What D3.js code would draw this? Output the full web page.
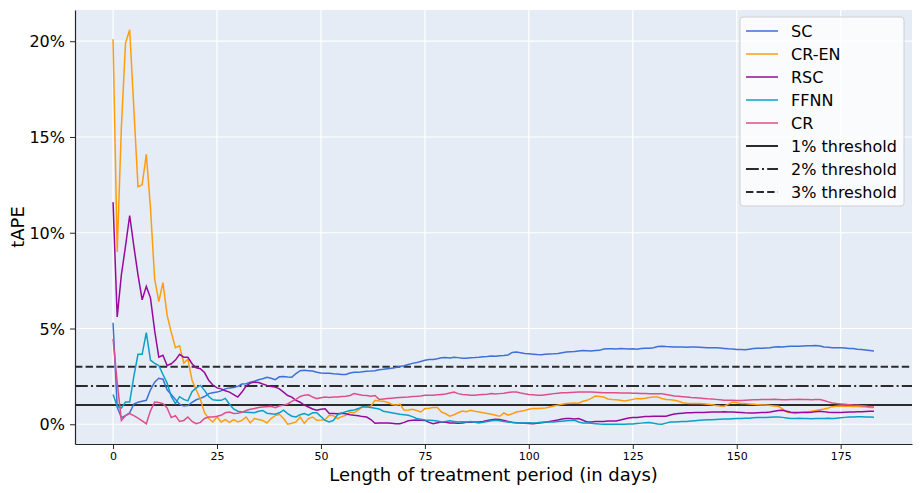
<!DOCTYPE html>
<html>
<head>
<meta charset="utf-8">
<script src="https://cdn.jsdelivr.net/npm/d3@7"></script>
<style>
  body { margin: 0; background: #fff; }
  svg { font-family: "DejaVu Sans", sans-serif; }
</style>
</head>
<body>
<svg id="chart" width="923" height="493"></svg>
<script>
// tAPE (%) per day of treatment period, days 0..183
var sc = [
  5.3, 0.9, 0.35, 0.45, 0.6, 1.05, 1.15, 1.2, 1.25, 1.8,
  2.2, 2.4, 2.35, 1.8, 1.55, 1.3, 1.05, 0.95, 0.98, 1.15,
  1.28, 1.35, 1.45, 1.6, 1.65, 1.68, 1.75, 1.85, 1.9, 1.92,
  1.98, 2.1, 2.12, 2.2, 2.25, 2.32, 2.38, 2.45, 2.4, 2.33,
  2.48, 2.5, 2.47, 2.46, 2.65, 2.8, 2.82, 2.8, 2.78, 2.72,
  2.68, 2.66, 2.67, 2.64, 2.62, 2.6, 2.6, 2.68, 2.72, 2.71,
  2.74, 2.77, 2.78, 2.8, 2.85, 2.87, 2.9, 2.93, 2.96, 3.02,
  3.06, 3.12, 3.18, 3.22, 3.28, 3.34, 3.38, 3.38, 3.42, 3.47,
  3.48, 3.46, 3.5, 3.48, 3.45, 3.45, 3.47, 3.48, 3.5, 3.53,
  3.54, 3.56, 3.55, 3.58, 3.59, 3.62, 3.75, 3.77, 3.74, 3.7,
  3.68, 3.66, 3.64, 3.63, 3.65, 3.67, 3.68, 3.7, 3.74, 3.77,
  3.79, 3.8, 3.83, 3.85, 3.84, 3.83, 3.85, 3.86, 3.93, 3.94,
  3.94, 3.93, 3.95, 3.94, 3.93, 3.94, 3.92, 3.95, 3.97, 3.97,
  4.0, 4.06, 4.08, 4.06, 4.05, 4.03, 4.03, 4.04, 4.02, 4.03,
  4.03, 4.02, 4.01, 4.0, 3.99, 3.99, 3.98, 3.96, 3.94, 3.93,
  3.91, 3.9, 3.89, 3.92, 3.95, 3.97, 3.97, 3.98, 3.99, 4.03,
  4.05, 4.04, 4.06, 4.07, 4.08, 4.08, 4.09, 4.1, 4.1, 4.11,
  4.09, 4.04, 4.02, 4.0, 4.0, 3.99, 3.98, 3.96, 3.95, 3.92,
  3.9, 3.88, 3.85, 3.82
];
var crEn = [
  20.1, 9.0, 15.5, 19.9, 20.6, 16.5, 12.4, 12.5, 14.1, 11.3,
  7.6, 6.4, 7.4, 5.7, 4.8, 4.0, 4.1, 3.2, 3.4, 2.3,
  1.8, 1.3, 0.6, 0.3, 0.12, 0.38, 0.12, 0.24, 0.1, 0.24,
  0.12, 0.2, 0.38, 0.07, 0.3, 0.25, 0.2, 0.07, 0.3, 0.45,
  0.52, 0.3, 0.0, 0.05, 0.12, 0.38, 0.05, 0.3, 0.38, 0.21,
  0.22, 0.24, 0.47, 0.45, 0.3, 0.4, 0.47, 0.64, 0.6, 0.75,
  0.9, 0.92, 0.94, 1.25, 1.22, 1.2, 1.15, 1.05, 1.0, 1.05,
  0.73, 0.75, 0.78, 0.72, 0.64, 0.82, 0.84, 0.87, 0.87, 0.64,
  0.55, 0.42, 0.5, 0.6, 0.69, 0.66, 0.73, 0.68, 0.64, 0.6,
  0.56, 0.52, 0.47, 0.42, 0.59, 0.47, 0.55, 0.64, 0.68, 0.72,
  0.78, 0.82, 0.83, 0.84, 0.85, 0.9, 0.95, 1.0, 1.05, 1.08,
  1.1, 1.11, 1.1, 1.2, 1.25, 1.35, 1.47, 1.45, 1.42, 1.32,
  1.29, 1.28, 1.25, 1.21, 1.25, 1.3, 1.34, 1.33, 1.36, 1.4,
  1.42, 1.42, 1.35, 1.29, 1.28, 1.25, 1.2, 1.12, 1.1, 1.09,
  1.08, 1.08, 1.07, 1.05, 1.02, 0.98, 0.95, 0.94, 1.05, 1.16,
  1.12, 1.08, 1.08, 1.06, 1.04, 1.02, 1.0, 1.0, 0.98, 0.96,
  0.94, 0.8, 0.64, 0.6, 0.56, 0.6, 0.64, 0.66, 0.68, 0.72,
  0.76, 0.8, 0.85, 0.92, 0.94, 0.95, 0.94, 0.94, 0.93, 0.94,
  0.92, 0.9, 0.88, 0.87
];
var rsc = [
  11.6, 5.6, 7.8, 9.3, 10.9, 9.3, 7.8, 6.5, 7.2, 6.6,
  4.9, 3.5, 3.6, 3.07, 3.16, 3.35, 3.65, 3.5, 3.5, 3.16,
  2.95, 2.9, 2.7, 2.3, 2.05, 1.9, 1.85, 1.75, 1.68, 1.55,
  1.42, 1.68, 2.0, 2.15, 2.2, 2.18, 2.1, 2.03, 1.97, 1.94,
  1.85, 1.68, 1.5, 1.42, 1.25, 1.15, 1.0, 0.9, 0.8, 0.73,
  0.78, 0.81, 0.56, 0.56, 0.55, 0.57, 0.55, 0.5, 0.47, 0.45,
  0.4, 0.38, 0.25, 0.05, 0.07, 0.07, 0.06, 0.05, 0.03, 0.03,
  0.1, 0.18, 0.21, 0.22, 0.21, 0.2, 0.1, 0.03, 0.08, 0.12,
  0.1, 0.07, 0.07, 0.05, 0.07, 0.1, 0.1, 0.12, 0.12, 0.15,
  0.2, 0.24, 0.26, 0.25, 0.2, 0.15, 0.09, 0.08, 0.06, 0.05,
  0.04, 0.03, 0.05, 0.08, 0.1, 0.14, 0.18, 0.22, 0.28, 0.3,
  0.3, 0.28, 0.3, 0.21, 0.12, 0.12, 0.14, 0.15, 0.15, 0.17,
  0.17, 0.17, 0.22, 0.28, 0.33, 0.35, 0.36, 0.38, 0.4, 0.41,
  0.42, 0.42, 0.42, 0.42, 0.48, 0.54, 0.56, 0.58, 0.6, 0.6,
  0.61, 0.62, 0.62, 0.63, 0.64, 0.64, 0.64, 0.65, 0.64, 0.64,
  0.63, 0.62, 0.6, 0.59, 0.59, 0.6, 0.61, 0.61, 0.64, 0.68,
  0.72, 0.73, 0.68, 0.63, 0.61, 0.61, 0.62, 0.62, 0.63, 0.66,
  0.68, 0.66, 0.63, 0.61, 0.61, 0.62, 0.63, 0.64, 0.64, 0.65,
  0.66, 0.67, 0.68, 0.68
];
var ffnn = [
  1.55, 0.95, 0.85, 1.16, 1.16, 2.5, 3.65, 3.65, 4.78, 3.35,
  3.18, 3.07, 2.6, 2.15, 1.45, 1.08, 1.44, 1.3, 1.22, 1.7,
  1.9, 2.03, 1.77, 1.45, 1.28, 1.25, 1.25, 1.35, 1.05, 0.8,
  0.68, 0.64, 0.63, 0.62, 0.6, 0.68, 0.72, 0.58, 0.55, 0.52,
  0.6, 0.74, 0.56, 0.42, 0.38, 0.5, 0.56, 0.48, 0.6, 0.6,
  0.4, 0.2, 0.12, 0.2, 0.5, 0.58, 0.66, 0.72, 0.75, 0.82,
  0.92, 0.9, 0.88, 0.84, 0.8, 0.68, 0.64, 0.6, 0.56, 0.52,
  0.5, 0.47, 0.4, 0.3, 0.26, 0.22, 0.21, 0.2, 0.17, 0.12,
  0.15, 0.18, 0.15, 0.12, 0.13, 0.12, 0.14, 0.1, 0.07, 0.1,
  0.14, 0.18, 0.21, 0.18, 0.14, 0.12, 0.1, 0.08, 0.07, 0.07,
  0.08, 0.07, 0.08, 0.1, 0.12, 0.12, 0.12, 0.14, 0.16, 0.18,
  0.2, 0.21, 0.12, 0.07, 0.06, 0.05, 0.03, 0.01, 0.0, 0.0,
  0.0, 0.0, 0.0, 0.0, 0.01, 0.02, 0.04, 0.06, 0.08, 0.09,
  0.05, 0.02, 0.0, 0.06, 0.12, 0.12, 0.13, 0.14, 0.15, 0.17,
  0.19, 0.21, 0.22, 0.23, 0.24, 0.25, 0.26, 0.27, 0.28, 0.29,
  0.3, 0.3, 0.31, 0.32, 0.34, 0.35, 0.36, 0.36, 0.37, 0.38,
  0.38, 0.36, 0.33, 0.3, 0.3, 0.31, 0.3, 0.3, 0.29, 0.3,
  0.3, 0.3, 0.31, 0.3, 0.32, 0.34, 0.36, 0.38, 0.38, 0.39,
  0.39, 0.38, 0.38, 0.37
];
var cr = [
  4.46, 2.2, 0.2, 0.45, 0.56, 0.45, 0.32, 0.18, 0.03, 0.7,
  1.16, 1.14, 1.08, 0.85, 0.35, 0.45, 0.15, 0.2, 0.38, 0.15,
  0.03, 0.1, 0.3, 0.38, 0.38, 0.42, 0.47, 0.6, 0.64, 0.56,
  0.58, 0.62, 0.72, 0.78, 0.82, 0.88, 0.9, 0.92, 0.94, 0.87,
  0.95, 1.0, 1.06, 1.2, 1.3, 1.45, 1.52, 1.54, 1.42, 1.34,
  1.38, 1.42, 1.4, 1.42, 1.43, 1.45, 1.46, 1.5, 1.6, 1.56,
  1.52, 1.5, 1.47, 1.5, 1.3, 1.32, 1.34, 1.36, 1.38, 1.4,
  1.41, 1.42, 1.45, 1.46, 1.48, 1.51, 1.51, 1.52, 1.54, 1.56,
  1.58, 1.63, 1.68, 1.6, 1.55, 1.54, 1.52, 1.51, 1.54, 1.56,
  1.57, 1.6, 1.58, 1.6, 1.62, 1.66, 1.68, 1.68, 1.63, 1.59,
  1.56, 1.54, 1.52, 1.51, 1.54, 1.57, 1.6, 1.62, 1.64, 1.65,
  1.66, 1.67, 1.68, 1.68, 1.69, 1.68, 1.67, 1.66, 1.65, 1.65,
  1.64, 1.64, 1.63, 1.63, 1.63, 1.62, 1.62, 1.61, 1.61, 1.6,
  1.6, 1.6, 1.6, 1.56, 1.52, 1.48, 1.46, 1.44, 1.42, 1.4,
  1.39, 1.37, 1.35, 1.33, 1.32, 1.3, 1.28, 1.26, 1.25, 1.25,
  1.24, 1.24, 1.26, 1.27, 1.28, 1.28, 1.29, 1.29, 1.29, 1.3,
  1.29, 1.28, 1.28, 1.29, 1.29, 1.3, 1.29, 1.29, 1.28, 1.29,
  1.29, 1.24, 1.17, 1.11, 1.08, 1.06, 1.04, 1.02, 1.0, 0.99,
  0.97, 0.95, 0.92, 0.9
];

var seriesNames = ["SC", "CR-EN", "RSC", "FFNN", "CR"];
var seriesColors = ["#3f6fd8", "#ff9d0e", "#990a9c", "#0aa0c8", "#de4f88"];
var thresholds = [1, 2, 3];
var thresholdNames = ["1% threshold", "2% threshold", "3% threshold"];
var xTicks = [0, 25, 50, 75, 100, 125, 150, 175];
var yTicks = [0, 5, 10, 15, 20];

var allSeries = [sc, crEn, rsc, ffnn, cr];
var dashes = [null, "12.8,3.2,2,3.2", "7.4,3.2"];

var svg = d3.select("#chart");
var margin = {left: 75, right: 11, top: 10, bottom: 49};
var width = 923 - margin.left - margin.right;
var height = 493 - margin.top - margin.bottom;

var x = d3.scaleLinear().domain([-9.15, 192.15]).range([0, width]);
var y = d3.scaleLinear().domain([-1.03, 21.63]).range([height, 0]);

var g = svg.append("g")
    .attr("transform", "translate(" + margin.left + "," + margin.top + ")");

g.append("rect")
    .attr("width", width)
    .attr("height", height)
    .attr("fill", "#e5ecf6");

// grid
g.selectAll(".xgrid")
    .data(xTicks)
    .enter()
    .append("line")
    .attr("x1", function(d) { return x(d); })
    .attr("x2", function(d) { return x(d); })
    .attr("y1", 0)
    .attr("y2", height)
    .attr("stroke", "#fff")
    .attr("stroke-width", 1.2);

g.selectAll(".ygrid")
    .data(yTicks)
    .enter()
    .append("line")
    .attr("y1", function(d) { return y(d); })
    .attr("y2", function(d) { return y(d); })
    .attr("x1", 0)
    .attr("x2", width)
    .attr("stroke", "#fff")
    .attr("stroke-width", 1.2);

// thresholds
g.selectAll(".thr")
    .data(thresholds)
    .enter()
    .append("line")
    .attr("x1", 0)
    .attr("x2", width)
    .attr("y1", function(d) { return y(d); })
    .attr("y2", function(d) { return y(d); })
    .attr("stroke", "#2b2b2b")
    .attr("stroke-width", 2)
    .attr("stroke-dasharray", function(d, i) { return dashes[i]; });

var line = d3.line()
    .x(function(d, i) { return x(i); })
    .y(function(d) { return y(d); });

g.selectAll(".series")
    .data(allSeries)
    .enter()
    .append("path")
    .attr("d", line)
    .attr("fill", "none")
    .attr("stroke", function(d, i) { return seriesColors[i]; })
    .attr("stroke-width", 1.5);

// axes
var xAxis = g.append("g")
    .attr("transform", "translate(0," + height + ")")
    .call(d3.axisBottom(x).tickValues(xTicks).tickSizeInner(5).tickSizeOuter(0).tickPadding(3));
xAxis.selectAll("text").style("font-size", "11px").attr("fill", "#000");

var yAxis = g.append("g")
    .call(d3.axisLeft(y).tickValues(yTicks).tickSizeInner(5).tickSizeOuter(0).tickPadding(5)
        .tickFormat(function(d) { return d + "%"; }));
yAxis.selectAll("text").style("font-size", "16px").attr("fill", "#000")
    .attr("dy", "0.35em");

[xAxis, yAxis].forEach(function(a) {
    a.select(".domain").attr("stroke", "#262626").attr("stroke-width", 1.2);
    a.selectAll(".tick line").attr("stroke", "#262626");
    a.style("font-family", "DejaVu Sans");
});

svg.append("text")
    .attr("x", margin.left + width / 2)
    .attr("y", 481)
    .attr("text-anchor", "middle")
    .style("font-size", "18px")
    .text("Length of treatment period (in days)");

svg.append("text")
    .attr("transform", "translate(24," + (margin.top + height / 2) + ") rotate(-90)")
    .attr("text-anchor", "middle")
    .style("font-size", "18px")
    .text("tAPE");

// legend
var legend = svg.append("g").attr("transform", "translate(740,17)");
legend.append("rect")
    .attr("width", 164)
    .attr("height", 189)
    .attr("rx", 3)
    .attr("fill", "#fff")
    .attr("fill-opacity", 0.8)
    .attr("stroke", "#d0d0d0");

var items = seriesNames.map(function(n, i) {
    return {name: n, color: seriesColors[i], dash: null};
}).concat(thresholdNames.map(function(n, i) {
    return {name: n, color: "#2b2b2b", dash: dashes[i]};
}));

var row = legend.selectAll(".item")
    .data(items)
    .enter()
    .append("g")
    .attr("transform", function(d, i) { return "translate(0," + (14 + i * 23) + ")"; });

row.append("line")
    .attr("x1", 6)
    .attr("x2", 38)
    .attr("stroke", function(d) { return d.color; })
    .attr("stroke-width", function(d, i) { return i < 5 ? 1.5 : 2; })
    .attr("stroke-dasharray", function(d) { return d.dash; });

row.append("text")
    .attr("x", 51)
    .attr("dy", "0.35em")
    .style("font-size", "16px")
    .text(function(d) { return d.name; });
</script>
</body>
</html>
